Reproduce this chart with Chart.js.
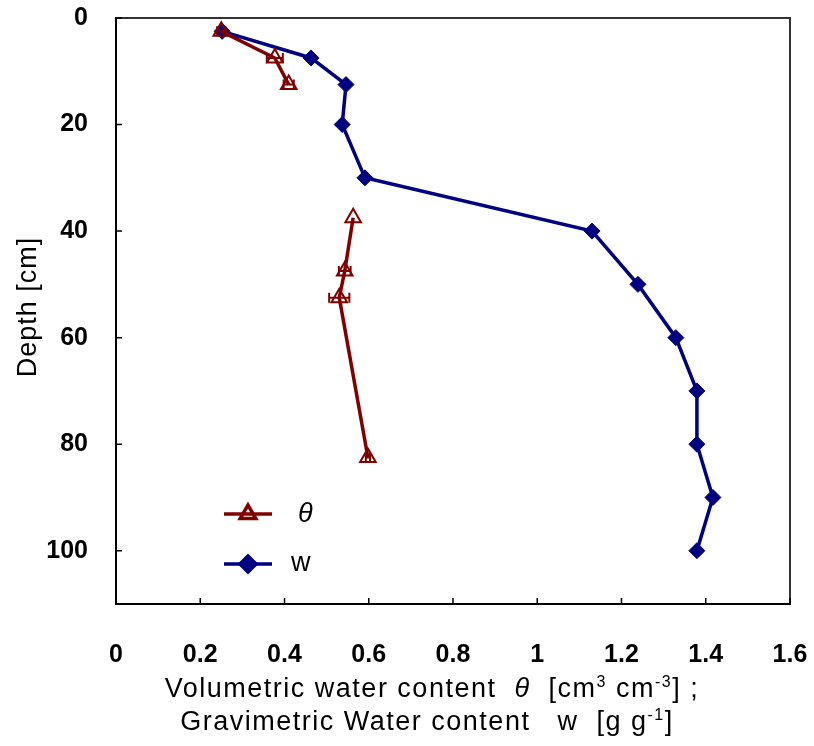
<!DOCTYPE html>
<html lang="en">
<head>
<meta charset="utf-8">
<title>Water content profile</title>
<script src="https://cdn.jsdelivr.net/npm/chart.js@4.4.0/dist/chart.umd.min.js"></script>
<style>
  html, body { margin: 0; padding: 0; background: #fff; }
  #wrap { width: 814px; height: 746px; }
</style>
</head>
<body>
<div id="wrap"><canvas id="myChart" width="814" height="746"></canvas></div>
<script>
// volumetric water content theta, null = break in the line
const thetaDepth = [2.5, 7.5, 12.5, null, 37.5, 47.5, 52.5, 82.5];
const thetaVal   = [0.25, 0.377, 0.41, null, 0.563, 0.543, 0.53, 0.598];
const thetaErr   = [0.01, 0.019, 0.012, null, 0, 0.014, 0.024, 0.005];

// gravimetric water content w
const wDepth = [2.5, 7.5, 12.5, 20, 30, 40, 50, 60, 70, 80, 90, 100];
const wVal   = [0.252, 0.463, 0.546, 0.537, 0.591, 1.13, 1.239, 1.329, 1.379, 1.379, 1.417, 1.379];

const xTicks = [0, 0.2, 0.4, 0.6, 0.8, 1, 1.2, 1.4, 1.6];
const xTickLabels = ['0', '0.2', '0.4', '0.6', '0.8', '1', '1.2', '1.4', '1.6'];
const yTicks = [0, 20, 40, 60, 80, 100];

const RED = '#800000', NAVY = '#000080';
const FONT = "'Liberation Sans', Arial, sans-serif";

function toPoints(xs, ys) {
    return xs.map((v, i) => ({ x: v, y: ys[i] }));
}

// draws text made of several pieces (italic, superscript) centred on cx
function drawRich(ctx, parts, cx, y) {
    let total = 0;
    parts.forEach(p => { ctx.font = p.font; total += ctx.measureText(p.t).width; });
    let x = cx - total / 2;
    parts.forEach(p => {
        ctx.font = p.font;
        ctx.fillText(p.t, x, y + (p.dy || 0));
        x += ctx.measureText(p.t).width;
    });
}

const extras = {
    id: 'extras',
    afterDatasetsDraw(chart) {
        const ctx = chart.ctx;
        const xs = chart.scales.x, ys = chart.scales.y;
        const a = chart.chartArea;
        ctx.save();

        // error bars on theta
        ctx.strokeStyle = RED;
        ctx.lineWidth = 2;
        thetaVal.forEach((v, i) => {
            if (v === null || !thetaErr[i]) return;
            const y = ys.getPixelForValue(thetaDepth[i]);
            const x1 = xs.getPixelForValue(v - thetaErr[i]);
            const x2 = xs.getPixelForValue(v + thetaErr[i]);
            ctx.beginPath();
            ctx.moveTo(x1, y); ctx.lineTo(x2, y);
            ctx.moveTo(x1, y - 5); ctx.lineTo(x1, y + 5);
            ctx.moveTo(x2, y - 5); ctx.lineTo(x2, y + 5);
            ctx.stroke();
        });

        // frame top/right and inward tick marks
        ctx.strokeStyle = '#333';
        ctx.lineWidth = 2;
        ctx.beginPath();
        ctx.moveTo(a.left, a.top); ctx.lineTo(a.right, a.top); ctx.lineTo(a.right, a.bottom);
        ctx.stroke();
        ctx.strokeStyle = '#000';
        ctx.lineWidth = 1.5;
        ctx.beginPath();
        xTicks.forEach(v => {
            const px = xs.getPixelForValue(v);
            ctx.moveTo(px, a.bottom); ctx.lineTo(px, a.bottom - 6);
        });
        yTicks.forEach(v => {
            const py = ys.getPixelForValue(v);
            ctx.moveTo(a.left, py); ctx.lineTo(a.left + 6, py);
        });
        ctx.stroke();

        // legend inside plot
        const items = [
            { ds: chart.data.datasets[0], y: 514, label: 'θ', font: 'italic 27px ' + FONT, tx: 298 },
            { ds: chart.data.datasets[1], y: 564, label: 'w', font: '27px ' + FONT, tx: 291 }
        ];
        items.forEach(it => {
            ctx.strokeStyle = it.ds.borderColor;
            ctx.lineWidth = it.ds.borderWidth;
            ctx.beginPath();
            ctx.moveTo(224, it.y); ctx.lineTo(272, it.y);
            ctx.stroke();
            ctx.fillStyle = it.ds.pointBackgroundColor;
            ctx.strokeStyle = it.ds.pointBorderColor;
            Chart.helpers.drawPoint(ctx, {
                pointStyle: it.ds.pointStyle,
                radius: it.ds.pointRadius,
                borderWidth: it.ds.pointBorderWidth,
                rotation: 0
            }, 248, it.y);
            ctx.fillStyle = '#000';
            ctx.font = it.font;
            ctx.textBaseline = 'middle';
            ctx.textAlign = 'left';
            ctx.fillText(it.label, it.tx, it.y);
        });

        // axis titles
        ctx.fillStyle = '#000';
        ctx.textBaseline = 'alphabetic';
        ctx.textAlign = 'left';
        ctx.letterSpacing = '1.5px';
        const n = '27px ' + FONT, it = 'italic 27px ' + FONT, sup = '16px ' + FONT;
        drawRich(ctx, [
            { t: 'Volumetric water content  ', font: n },
            { t: 'θ', font: it },
            { t: '  [cm', font: n },
            { t: '3', font: sup, dy: -10 },
            { t: ' cm', font: n },
            { t: '-3', font: sup, dy: -10 },
            { t: '] ;', font: n }
        ], 432, 697);
        drawRich(ctx, [
            { t: 'Gravimetric Water content   w  [g g', font: n },
            { t: '-1', font: sup, dy: -10 },
            { t: ']', font: n }
        ], 427, 730);

        ctx.letterSpacing = '1px';
        ctx.translate(36, 307);
        ctx.rotate(-Math.PI / 2);
        ctx.textAlign = 'center';
        ctx.font = n;
        ctx.fillText('Depth [cm]', 0, 0);
        ctx.restore();
    }
};

const ctx = document.getElementById('myChart').getContext('2d');
const chart = new Chart(ctx, {
    type: 'scatter',
    data: {
        datasets: [{
            label: 'θ',
            data: toPoints(thetaVal, thetaDepth),
            showLine: true,
            spanGaps: false,
            borderColor: RED,
            borderWidth: 3.5,
            pointStyle: 'triangle',
            pointRadius: 9,
            pointBorderWidth: 2,
            pointBorderColor: RED,
            pointBackgroundColor: 'rgba(255,255,255,0)'
        }, {
            label: 'w',
            data: toPoints(wVal, wDepth),
            showLine: true,
            borderColor: NAVY,
            borderWidth: 3.5,
            pointStyle: 'rectRot',
            pointRadius: 8,
            pointBorderWidth: 1,
            pointBorderColor: NAVY,
            pointBackgroundColor: NAVY
        }]
    },
    options: {
        responsive: false,
        animation: false,
        layout: { padding: { top: 18, right: 24, left: 0, bottom: 0 } },
        plugins: { legend: { display: false }, tooltip: { enabled: false } },
        scales: {
            x: {
                type: 'linear',
                min: 0, max: 1.6,
                afterFit: s => { s.height = 142; s.paddingLeft = 0; s.paddingRight = 0; },
                afterBuildTicks: s => { s.ticks = xTicks.map(v => ({ value: v })); },
                grid: { display: false },
                border: { display: true, color: '#000', width: 2 },
                ticks: {
                    padding: 28,
                    color: '#000',
                    font: { family: FONT, size: 25, weight: 'bold' },
                    maxRotation: 0,
                    callback: (v, i) => xTickLabels[i]
                }
            },
            y: {
                type: 'linear',
                reverse: true,
                min: 0, max: 110,
                afterFit: s => { s.width = 116; s.paddingTop = 0; s.paddingBottom = 0; },
                afterBuildTicks: s => { s.ticks = yTicks.map(v => ({ value: v })); },
                grid: { display: false },
                border: { display: true, color: '#000', width: 2 },
                ticks: {
                    padding: 20,
                    color: '#000',
                    font: { family: FONT, size: 25, weight: 'bold' }
                }
            }
        }
    },
    plugins: [extras]
});
</script>
</body>
</html>
